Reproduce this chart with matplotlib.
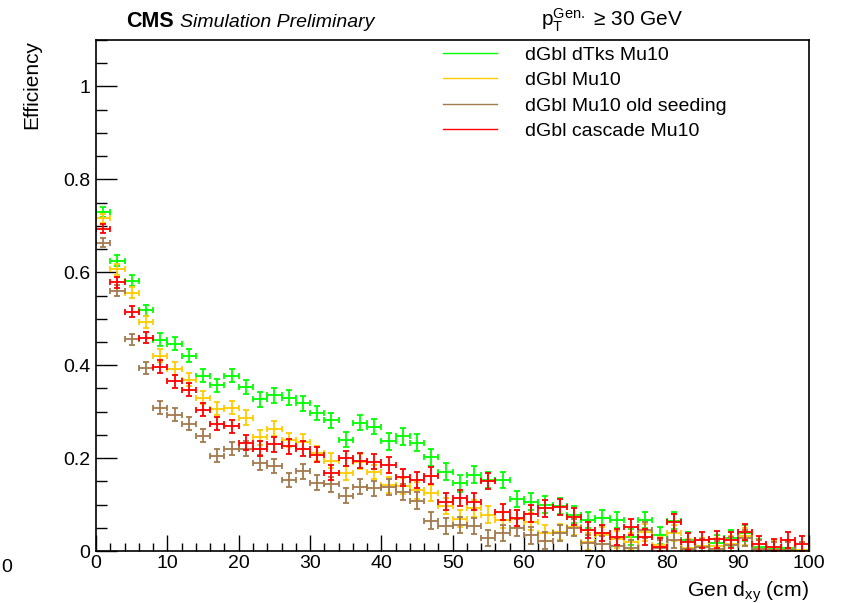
import numpy as np
import matplotlib
matplotlib.use('Agg')
import matplotlib.pyplot as plt
from matplotlib.lines import Line2D
from matplotlib.ticker import MultipleLocator, FuncFormatter

plt.rcParams['font.family'] = ['Liberation Sans', 'DejaVu Sans']
plt.rcParams['mathtext.fontset'] = 'custom'
plt.rcParams['mathtext.rm'] = 'Liberation Sans'
plt.rcParams['mathtext.it'] = 'Liberation Sans:italic'

# bin edges 0..100 in steps of 2 cm
bin_edges = np.arange(0, 102, 2)
bin_centers = 0.5 * (bin_edges[:-1] + bin_edges[1:])

eff_dtks = [0.730, 0.625, 0.582, 0.518, 0.455, 0.446, 0.420, 0.377, 0.357, 0.377,
            0.353, 0.327, 0.335, 0.330, 0.318, 0.297, 0.281, 0.240, 0.276, 0.268,
            0.236, 0.247, 0.233, 0.202, 0.171, 0.146, 0.164, 0.153, 0.153, 0.112,
            0.106, 0.100, 0.097, 0.078, 0.067, 0.071, 0.067, 0.030, 0.067, 0.034,
            0.065, 0.024, 0.011, 0.017, 0.028, 0.039, 0.008, 0.004, 0.006, 0.002]

eff_mu10 = [0.716, 0.606, 0.556, 0.493, 0.420, 0.392, 0.369, 0.330, 0.306, 0.308,
            0.287, 0.245, 0.263, 0.239, 0.235, 0.210, 0.194, 0.168, 0.192, 0.170,
            0.142, 0.140, 0.131, 0.125, 0.097, 0.070, 0.092, 0.078, 0.067, 0.070,
            0.063, 0.039, 0.041, 0.052, 0.020, 0.034, 0.025, 0.020, 0.040, 0.013,
            0.039, 0.007, 0.010, 0.011, 0.015, 0.032, 0.005, 0.003, 0.003, 0.002]

eff_old = [0.664, 0.560, 0.456, 0.394, 0.308, 0.293, 0.274, 0.248, 0.205, 0.220,
           0.220, 0.190, 0.183, 0.153, 0.172, 0.147, 0.144, 0.119, 0.138, 0.135,
           0.138, 0.127, 0.108, 0.065, 0.054, 0.056, 0.054, 0.028, 0.039, 0.050,
           0.034, 0.022, 0.039, 0.050, 0.017, 0.015, 0.011, 0.006, 0.045, 0.006,
           0.024, 0.005, 0.008, 0.004, 0.013, 0.028, 0.005, 0.002, 0.002, 0.001]

eff_cascade = [0.694, 0.578, 0.515, 0.459, 0.397, 0.365, 0.347, 0.304, 0.274, 0.269,
               0.233, 0.220, 0.230, 0.225, 0.220, 0.207, 0.169, 0.200, 0.194, 0.192,
               0.185, 0.159, 0.153, 0.162, 0.106, 0.114, 0.106, 0.151, 0.084, 0.071,
               0.080, 0.092, 0.095, 0.074, 0.045, 0.039, 0.030, 0.052, 0.030, 0.009,
               0.062, 0.020, 0.024, 0.025, 0.024, 0.041, 0.015, 0.008, 0.024, 0.015]

# rough stat. uncertainty per bin (shared)
eff_err = [0.010, 0.012, 0.012, 0.012, 0.014, 0.014, 0.014, 0.014, 0.014, 0.014,
           0.016, 0.016, 0.016, 0.016, 0.016, 0.016, 0.016, 0.016, 0.016, 0.016,
           0.018, 0.018, 0.018, 0.018, 0.018, 0.018, 0.018, 0.018, 0.018, 0.018,
           0.018, 0.018, 0.018, 0.018, 0.018, 0.018, 0.018, 0.018, 0.018, 0.018,
           0.018, 0.018, 0.018, 0.018, 0.018, 0.018, 0.018, 0.018, 0.018, 0.018]

series = [
    ('dGbl dTks Mu10', eff_dtks, '#00ff00'),
    ('dGbl Mu10', eff_mu10, '#ffcc00'),
    ('dGbl Mu10 old seeding', eff_old, '#a27a4e'),
    ('dGbl cascade Mu10', eff_cascade, '#ff0000'),
]

fig = plt.figure(figsize=(8.43, 6.03), dpi=100)
ax = fig.add_axes([0.114, 0.0862, 0.846, 0.8475])

err = np.array(eff_err)
handles = []
for label, vals, color in series:
    vals = np.array(vals)
    lo = np.minimum(err, vals)
    hi = np.minimum(err, 1 - vals)
    ax.errorbar(bin_centers, vals, xerr=1.0, yerr=[lo, hi], fmt='none',
                ecolor=color, elinewidth=1.3, capsize=2.5, capthick=1.3)
    handles.append(Line2D([], [], color=color, lw=1.0, label=label))

ax.set_xlim(0, 100)
ax.set_ylim(0, 1.1)

ax.xaxis.set_major_locator(MultipleLocator(10))
ax.xaxis.set_minor_locator(MultipleLocator(2))
ax.yaxis.set_major_locator(MultipleLocator(0.2))
ax.yaxis.set_minor_locator(MultipleLocator(0.05))
ax.yaxis.set_major_formatter(FuncFormatter(lambda v, p: '%g' % round(v, 2) if v <= 1.001 else ''))

ax.tick_params(axis='both', which='both', direction='in', top=False, right=False,
               labelsize=14, width=1.0)
ax.tick_params(axis='y', which='major', length=15, pad=4)
ax.tick_params(axis='y', which='minor', length=8)
ax.tick_params(axis='x', which='major', length=11.5, pad=3)
ax.tick_params(axis='x', which='minor', length=6)
for sp in ax.spines.values():
    sp.set_linewidth(1.2)

ax.set_ylabel('Efficiency', fontsize=15, loc='top', labelpad=16)
ax.set_xlabel(r'Gen d$_{\mathrm{xy}}$ (cm)', fontsize=15.2, loc='right', labelpad=5)

# CMS label and cut text
fig.text(0.150, 0.955, 'CMS', fontsize=15.5, fontweight='bold', va='baseline')
fig.text(0.214, 0.955, 'Simulation Preliminary', fontsize=14, style='italic', va='baseline')
fig.text(0.642, 0.957, r'$\mathrm{p}_{\mathrm{T}}^{\mathrm{Gen.}}$' + ' \u2265 30 GeV',
         fontsize=15, va='baseline')
fig.text(0.001, 0.052, '0', fontsize=14, va='baseline')

ax.legend(handles=handles, loc='upper left', bbox_to_anchor=(0.475, 1.003),
          frameon=False, fontsize=14, handlelength=2.8, handletextpad=1.45,
          labelspacing=0.4, borderaxespad=0)

fig.savefig('out.png', dpi=100)
